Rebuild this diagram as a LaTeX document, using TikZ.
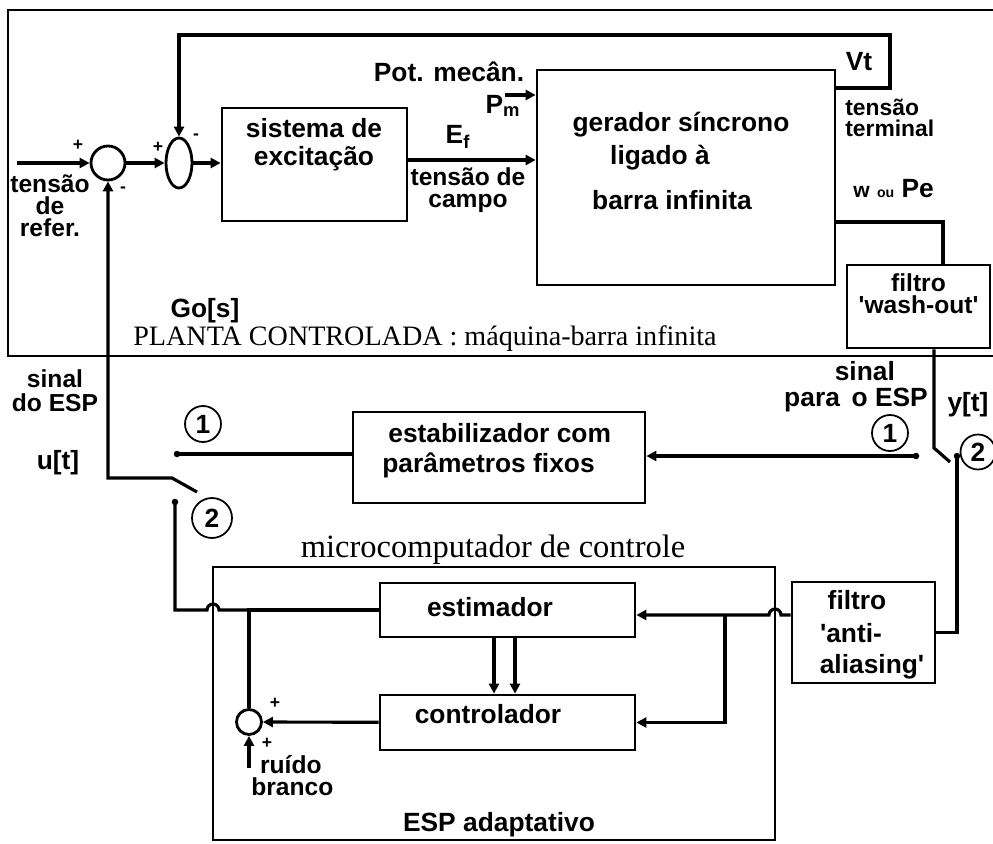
\documentclass[tikz,border=0pt]{standalone}
\usepackage{fontspec}
\setmainfont{Liberation Sans}
\newfontfamily\serifp{Liberation Serif}
\usetikzlibrary{arrows.meta,shapes.geometric}
\begin{document}
\begin{tikzpicture}[x=0.02cm,y=-0.02cm,
  >={Triangle[length=2mm,width=2mm]},
  txt/.style={font=\fontsize{15}{17}\selectfont\bfseries, inner sep=0pt},
  stack/.style={font=\fontsize{14}{#1}\selectfont\bfseries, inner sep=0pt, align=center},
  sml/.style={font=\fontsize{10}{10}\selectfont\bfseries, inner sep=0pt},
  plt/.style={font=\serifp\fontsize{16}{16}\selectfont, inner sep=0pt},
  blk/.style 2 args={draw, line width=1.6pt, minimum width=#1, minimum height=#2, inner sep=0pt},
  sig/.style={line width=1.8pt},
  frm/.style={line width=1.3pt},
  num/.style={draw, circle, line width=1pt, minimum size=0.72cm, inner sep=0pt, font=\fontsize{15}{15}\selectfont\bfseries},
  dot/.style={circle, fill, inner sep=0pt, minimum size=0.13cm},
  sumj/.style={draw, circle, line width=1.6pt, inner sep=0pt}
]
\useasboundingbox (0,0) rectangle (993,844);
\fill[white] (0,0) rectangle (993,844);

% frames
\draw[frm] (993,10) -- (8,10) -- (8,356) -- (993,356);
\draw[line width=0.8pt] (213,567) rectangle (775,840);

% blocks
\node[blk={3.70cm}{2.26cm}] (exc) at (314.5,164.5) {};
\node[blk={5.96cm}{4.30cm}] (gen) at (686,177.5) {};
\node[blk={2.86cm}{1.66cm}] (wash) at (918.5,306.5) {};
\node[blk={5.84cm}{1.82cm}] (estab) at (499,457.5) {};
\node[blk={5.10cm}{1.08cm}] (estim) at (507.5,610) {};
\node[blk={5.10cm}{1.10cm}] (contr) at (507.5,722.5) {};
\node[blk={2.86cm}{2.02cm}] (aa) at (863.5,632.5) {};

% junctions
\node[sumj, minimum size=0.68cm] (j1) at (108,163) {};
\node[draw, ellipse, line width=1.6pt, minimum width=0.52cm, minimum height=1.0cm, inner sep=0pt] (j2) at (179,163) {};
\node[sumj, minimum size=0.5cm] (j3) at (249,722) {};

% helper coordinates
\coordinate (ref) at (17,163);
\coordinate (efy) at (0,160);
\coordinate (pmS) at (505,95);
\coordinate (vtA) at (890,88);
\coordinate (vtB) at (890,35);
\coordinate (vtC) at (179,35);
\coordinate (wA) at (943,222);
\coordinate (swA) at (934,448);
\coordinate (swB) at (950,462);
\coordinate (swL1) at (172,478);
\coordinate (swL2) at (197,492);
\coordinate (cR1) at (916,456);
\coordinate (cR2) at (957,456);
\coordinate (cL1) at (177,454);
\coordinate (cL2) at (175,502);
\coordinate (hy) at (0,615);
\coordinate (hopR) at (781,615);
\coordinate (br) at (725,615);
\coordinate (a1) at (494,0);
\coordinate (a2) at (515,0);
\coordinate (noise) at (249,768);
\coordinate (jt) at (249,610);
\coordinate (hopL) at (219,610);

% connectors
\draw[sig,->] (ref) -- (j1);
\draw[sig,->] (j1) -- (j2);
\draw[sig,->] (j2) -- (j2 -| exc.west);
\draw[sig,->] (exc.east |- efy) -- (gen.west |- efy);
\draw[sig,->] (pmS) -- (pmS -| gen.west);
\draw[sig,->] (gen.east |- vtA) -- (vtA) -- (vtB) -- (vtC) -- (j2.north);
\draw[sig] (gen.east |- wA) -- (wA) -- (wA |- wash.north);
\draw[sig] (wash.south -| swA) -- (swA) -- (swB);
\draw[sig,->] (cR1) -- (estab.east |- cR1);
\draw[sig] (cR2) -- (cR2 |- aa.east) -- (aa.east);
\draw[sig] (estab.west |- cL1) -- (cL1);
\draw[sig,->] (swL2) -- (swL1) -- (swL1 -| j1) -- (j1.south);
\draw[sig,->] (aa.west |- hy) -- (hopR) arc[start angle=0,end angle=180,radius=0.12cm] -- (estim.east |- hy);
\draw[sig,->] (br) |- (contr.east);
\draw[sig,->] (estim.south -| a1) -- (contr.north -| a1);
\draw[sig,->] (estim.south -| a2) -- (contr.north -| a2);
\draw[sig,->] (contr) -- (j3);
\draw[sig,->] (noise) -- (j3);
\draw[sig] (j3) -- (jt) -- (estim.west);
\draw[sig] (jt) -- (hopL) arc[start angle=0,end angle=180,radius=0.12cm] -- (cL2 |- jt) -- (cL2);

% contacts
\node[dot] (d1) at (cR1) {};
\node[dot] (d2) at (cR2) {};
\node[dot] (d3) at (cL1) {};
\node[dot] (d4) at (cL2) {};

\node[num] (n1L) at (203,424) {1};
\node[num, minimum size=0.80cm] (n2L) at (212,518) {2};
\node[num] (n1R) at (890,433) {1};
\node[num, minimum size=0.70cm] (n2R) at (978,452) {2};

% signs
\node[sml] (p1) at (78,145) {+};
\node[sml] (m1) at (123,190) {-};
\node[sml] (p2) at (158,147) {+};
\node[sml] (m2) at (196,137) {-};
\node[sml] (p3) at (275,703) {+};
\node[sml] (p4) at (267,743) {+};

% texts
\node[stack=12.5, anchor=north] (t1) at (50,174) {tensão\\de\\refer.};
\node[stack=16, font=\fontsize{15}{16}\selectfont\bfseries] (t4) at (314,145) {sistema de\\excitação};
\node[txt] (t6) at (458,137) {E\textsubscript{f}};
\node[stack=12.5] (t7) at (468,190) {tensão de\\campo};
\node[txt] (t9) at (449,72) {Pot. mecân.};
\node[txt] (t10) at (503,106) {P\textsubscript{m}};
\node[txt] (t11) at (681,125) {gerador síncrono};
\node[txt] (t12) at (660,158) {ligado à};
\node[txt] (t13) at (672,200) {barra infinita};
\node[txt] (t14) at (859,62) {Vt};
\node[stack=12, align=left, anchor=west, font=\fontsize{13}{12}\selectfont\bfseries] (t15) at (845,117.5) {tensão\\terminal};
\node[txt, anchor=base west] (t17) at (853,198) {{\fontsize{12}{12}\selectfont w} {\fontsize{8}{8}\selectfont ou} Pe};
\node[stack=12.5] (t18) at (918.5,294) {filtro\\\textquotesingle wash-out\textquotesingle};
\node[txt] (t20) at (205,311) {Go[s]};
\node[plt, anchor=west] (t21) at (133,339) {PLANTA CONTROLADA : máquina-barra infinita};
\node[stack=13.5] (t22) at (55,391) {sinal\\do ESP};
\node[txt] (t24) at (58,463) {u[t]};
\node[stack=14.7, font=\fontsize{15}{14.7}\selectfont\bfseries] (t25) at (856,387) {\hspace*{10pt}sinal\\para\, o ESP};
\node[txt] (t27) at (968,405) {y[t]};
\node[txt, anchor=west] (t28) at (388,433) {estabilizador com};
\node[txt, anchor=west] (t29) at (382,465) {parâmetros fixos};
\node[plt, font=\serifp\fontsize{18.5}{18.5}\selectfont] (t30) at (493,550) {microcomputador de controle};
\node[txt] (t31) at (490,607) {estimador};
\node[txt] (t32) at (488,714) {controlador};
\node[stack=12.5, align=left, anchor=west] (t33) at (251,776) {\hspace*{5pt}ruído\\branco};
\node[txt] (t35) at (499,825) {ESP adaptativo};
\node[txt] (t36) at (857,600) {filtro};
\node[txt] (t37) at (851,633) {\textquotesingle anti-};
\node[txt] (t38) at (872,667) {aliasing\textquotesingle};
\end{tikzpicture}
\end{document}
